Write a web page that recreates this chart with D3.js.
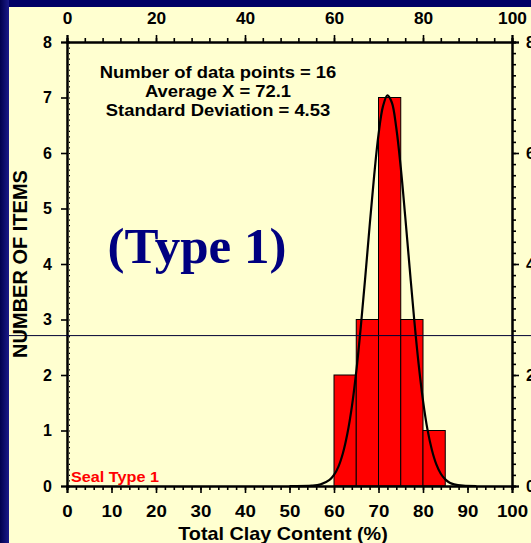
<!DOCTYPE html>
<html>
<head>
<meta charset="utf-8">
<script src="https://cdn.jsdelivr.net/npm/d3@7"></script>
<style>
  body { margin: 0; background: #000066; }
  svg { display: block; }
  text { font-family: "Liberation Sans", Arial, sans-serif; font-weight: bold; }
</style>
</head>
<body>
<svg id="chart" width="531" height="543"></svg>
<script>
// histogram bins (left edge), counts per bin, bin width
var binStarts = [60, 65, 70, 75, 80];
var binCounts = [2, 3, 7, 3, 1];
var binWidth = 5;

// fitted normal curve
var curveX = [50, 55, 57, 59, 60, 61, 62, 63, 64, 65, 66, 67, 68, 69, 70, 71, 72, 73, 74, 75, 76, 77, 78, 79, 80, 81, 82, 83, 84, 85, 86, 87, 89, 92];
var curveY = [0, 0.006, 0.03, 0.11, 0.2, 0.35, 0.59, 0.94, 1.42, 2.06, 2.85, 3.74, 4.68, 5.57, 6.33, 6.84, 7.04, 6.91, 6.45, 5.74, 4.86, 3.93, 3.02, 2.21, 1.54, 1.02, 0.65, 0.39, 0.22, 0.12, 0.06, 0.03, 0.007, 0];

var statLines = ["Number of data points = 16", "Average X = 72.1", "Standard Deviation = 4.53"];
var refLevel = 2.71;

var xTicks = d3.range(0, 101, 10);
var topTicks = d3.range(0, 101, 20);
var yTicks = d3.range(0, 9, 1);
var rightTicks = d3.range(0, 9, 2);

var svg = d3.select("#chart");
var W = 531, H = 543;

// background: blue frame with yellow panel
var defs = svg.append("defs");
var grad = defs.append("linearGradient").attr("id", "frame").attr("x1", 0).attr("x2", 1);
grad.append("stop").attr("offset", 0).attr("stop-color", "#00004d");
grad.append("stop").attr("offset", 1).attr("stop-color", "#1a1a8a");
svg.append("rect").attr("width", W).attr("height", H).attr("fill", "#000066");
svg.append("rect").attr("width", 9).attr("height", H).attr("fill", "url(#frame)");
svg.append("rect").attr("x", 9).attr("y", 7).attr("width", W - 9).attr("height", H - 7).attr("fill", "#ffffd0");

var x = d3.scaleLinear().domain([0, 100]).range([67, 512]);
var y = d3.scaleLinear().domain([0, 8]).range([486, 42]);

// bars
svg.selectAll("rect.bar").data(binStarts).enter().append("rect")
  .attr("class", "bar")
  .attr("x", function(d) { return x(d); })
  .attr("y", function(d, i) { return y(binCounts[i]); })
  .attr("width", function(d) { return x(d + binWidth) - x(d); })
  .attr("height", function(d, i) { return y(0) - y(binCounts[i]); })
  .attr("fill", "#ff0000")
  .attr("stroke", "#000")
  .attr("stroke-width", 1);

// normal curve
var pts = curveX.map(function(d, i) { return [d, curveY[i]]; });
var line = d3.line()
  .x(function(d) { return x(d[0]); })
  .y(function(d) { return y(d[1]); })
  .curve(d3.curveCatmullRom);
svg.append("path").attr("d", line(pts))
  .attr("fill", "none").attr("stroke", "#000").attr("stroke-width", 2.2);

// axes
function styleAxis(g, fs) {
  g.select(".domain").attr("stroke", "#000").attr("stroke-width", 2);
  g.selectAll(".tick line").attr("stroke", "#000").attr("stroke-width", 1.6);
  g.selectAll("text").attr("fill", "#000").style("font-size", fs + "px").attr("font-family", null);
}

var gb = svg.append("g").attr("transform", "translate(0," + y(0) + ")")
  .call(d3.axisBottom(x).tickValues(d3.range(0, 101, 2)).tickSize(4).tickFormat(""));
styleAxis(gb, 17);
var gb2 = svg.append("g").attr("transform", "translate(0," + y(0) + ")")
  .call(d3.axisBottom(x).tickValues(xTicks).tickSize(7).tickPadding(12).tickFormat(d3.format("d")));
styleAxis(gb2, 17);
gb2.selectAll("text").attr("transform", "scale(1.1,1)");

var gt = svg.append("g").attr("transform", "translate(0," + y(8) + ")")
  .call(d3.axisTop(x).tickValues(d3.range(0, 101, 4)).tickSize(4).tickFormat(""));
styleAxis(gt, 15);
var gt2 = svg.append("g").attr("transform", "translate(0," + y(8) + ")")
  .call(d3.axisTop(x).tickValues(topTicks).tickSize(7).tickPadding(11).tickFormat(d3.format("d")));
styleAxis(gt2, 16);
gt2.selectAll("text").attr("transform", "scale(1.08,1)");

var gl = svg.append("g").attr("transform", "translate(" + x(0) + ",0)")
  .call(d3.axisLeft(y).tickValues(d3.range(0, 8.01, 0.1)).tickSize(-3).tickFormat(""));
styleAxis(gl, 15);
gl.selectAll(".tick line").attr("x1", 2).attr("stroke-width", 1.2);
var gl2 = svg.append("g").attr("transform", "translate(" + x(0) + ",0)")
  .call(d3.axisLeft(y).tickValues(yTicks).tickSize(6).tickPadding(9).tickFormat(d3.format("d")));
styleAxis(gl2, 16);

var gr = svg.append("g").attr("transform", "translate(" + x(100) + ",0)")
  .call(d3.axisRight(y).tickValues(d3.range(0, 8.01, 0.2)).tickSize(4).tickFormat(""));
styleAxis(gr, 15);
var gr2 = svg.append("g").attr("transform", "translate(" + x(100) + ",0)")
  .call(d3.axisRight(y).tickValues(rightTicks).tickSize(7).tickPadding(7).tickFormat(d3.format("d")));
styleAxis(gr2, 16);

// reference line across the panel
svg.append("line")
  .attr("x1", 9).attr("x2", W)
  .attr("y1", y(refLevel)).attr("y2", y(refLevel))
  .attr("stroke", "#000033").attr("stroke-width", 1);

// axis titles
svg.append("text")
  .attr("transform", "translate(283,540) scale(1.1,1)")
  .attr("text-anchor", "middle")
  .style("font-size", "18px")
  .text("Total Clay Content (%)");

svg.append("text")
  .attr("transform", "translate(27," + ((y(0) + y(8)) / 2) + ") rotate(-90)")
  .attr("text-anchor", "middle")
  .style("font-size", "20px")
  .text("NUMBER OF ITEMS");

// stats block
svg.selectAll("text.stat").data(statLines).enter().append("text")
  .attr("class", "stat")
  .attr("transform", function(d, i) { return "translate(218," + (78 + i * 19) + ") scale(1.15,1)"; })
  .attr("text-anchor", "middle")
  .style("font-size", "16px")
  .attr("fill", "#000")
  .text(function(d) { return d; });

// big label
svg.append("text")
  .attr("x", 197).attr("y", 263)
  .attr("text-anchor", "middle")
  .style("font-family", "'Liberation Serif', 'Times New Roman', serif")
  .style("font-size", "51px")
  .attr("fill", "#000080")
  .text("(Type 1)");

svg.append("text")
  .attr("transform", "translate(71,482) scale(1.08,1)")
  .style("font-size", "15px")
  .attr("fill", "#ff0000")
  .text("Seal Type 1");
</script>
</body>
</html>
